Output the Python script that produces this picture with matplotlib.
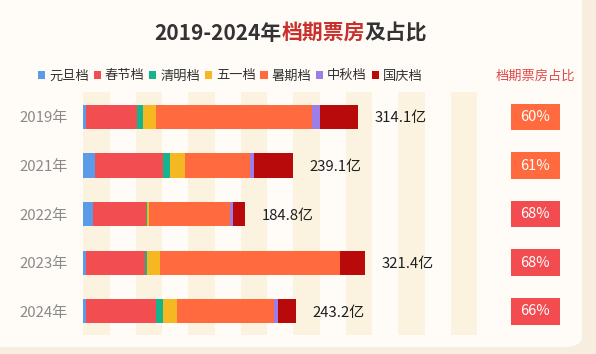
import matplotlib
matplotlib.use("Agg")
import matplotlib.pyplot as plt
from matplotlib.patches import FancyBboxPatch
import numpy as np

plt.rcParams['font.family'] = ['Noto Sans CJK SC', 'DejaVu Sans']

# data (亿元)
years = ['2019年', '2021年', '2022年', '2023年', '2024年']
seasons = ['元旦档', '春节档', '清明档', '五一档', '暑期档', '中秋档', '国庆档']
yuandan = [2.6, 12.9, 10.7, 2.6, 2.6]
chunjie = [58.4, 78.5, 60.9, 67.6, 80.2]
qingming = [7.2, 8.0, 1.4, 2.0, 8.4]
wuyi = [15.3, 17.0, 2.1, 15.2, 15.3]
shuqi = [177.8, 73.8, 92.6, 206.2, 110.8]
zhongqiu = [8.5, 5.3, 3.0, 0.0, 4.8]
guoqing = [44.3, 43.6, 14.1, 27.8, 21.1]
totals = [314.1, 239.1, 184.8, 321.4, 243.2]
share = ['60%', '61%', '68%', '68%', '66%']

colors = ['#5B9BE8', '#F24E52', '#16B48E', '#F5B722', '#FF6A3F', '#9C7EE8', '#B80A0A']
share_colors = ['#FF6B3F', '#FF6B3F', '#F24B50', '#F24B50', '#F24B50']

W, H = 596, 354
fig = plt.figure(figsize=(W / 100, H / 100), dpi=100, facecolor='#F8EEDF')

# card background
card = FancyBboxPatch((-0.05, 0.02), 0.05 + 582 / W, 1.1, boxstyle='round,pad=0,rounding_size=0.03',
                      transform=fig.transFigure, facecolor='#FFFCF7', edgecolor='none', zorder=-5)
fig.patches.append(card)

# title with red middle part
fig.canvas.draw()
r = fig.canvas.get_renderer()
ty = 1 - 33 / H
t0 = fig.text(154 / W, ty, '2019-2024年', fontsize=15, fontweight='bold', color='#333333',
              ha='left', va='center')
x1 = t0.get_window_extent(r).x1 / W
t2 = fig.text(x1, ty, '档期票房', fontsize=15, fontweight='bold', color='#C9302C',
              ha='left', va='center')
x2 = t2.get_window_extent(r).x1 / W
fig.text(x2, ty, '及占比', fontsize=15, fontweight='bold', color='#333333',
         ha='left', va='center')

# main bar axes
ax = fig.add_axes([83.3 / W, (H - 335) / H, 450 * 0.8755 / W, 243.3 / H])
ax.set_facecolor('none')
ypos = np.arange(len(years))
for k in range(8):
    ax.axvspan(k * 60, k * 60 + 30, color='#FCF2E0', zorder=0, lw=0)

series = [yuandan, chunjie, qingming, wuyi, shuqi, zhongqiu, guoqing]
left = np.zeros(len(years))
handles = []
for name, vals, c in zip(seasons, series, colors):
    b = ax.barh(ypos, vals, left=left, height=0.495, color=c, label=name, zorder=2, lw=0)
    handles.append(b)
    left += np.array(vals)

for y, tot in zip(ypos, totals):
    ax.text(tot + 19, y + 0.03, f'{tot}亿', va='center', ha='left', fontsize=10.7, color='#1E1E1E')

ax.set_xlim(0, 450)
ax.set_ylim(4.49, -0.52)
ax.set_yticks(ypos)
ax.set_yticklabels(years, fontsize=10.8, color='#8A8A8A')
ax.tick_params(axis='y', length=0, pad=11)
ax.set_xticks([])
for s in ax.spines.values():
    s.set_visible(False)

# share column
ax2 = fig.add_axes([510.6 / W, (H - 335) / H, 49.4 / W, 243.3 / H])
ax2.set_facecolor('none')
ax2.barh(ypos, [1] * len(years), height=0.55, color=share_colors, lw=0)
for y, s in zip(ypos, share):
    ax2.text(0.5, y, s, ha='center', va='center', color='white', fontsize=10.5)
ax2.set_xlim(0, 1)
ax2.set_ylim(4.49, -0.52)
ax2.axis('off')

fig.text(535 / W, 1 - 76 / H, '档期票房占比', ha='center', va='center', fontsize=9.5, color='#E04A4A')

fig.legend(handles, seasons, ncol=7, loc='center left', bbox_to_anchor=(38 / W, 1 - 76 / H),
           frameon=False, fontsize=9.5, handlelength=0.55, handleheight=0.55, handletextpad=0.3,
           columnspacing=0.35, borderpad=0, borderaxespad=0, labelcolor='#333333')

fig.savefig('out.png', dpi=100, facecolor=fig.get_facecolor())
